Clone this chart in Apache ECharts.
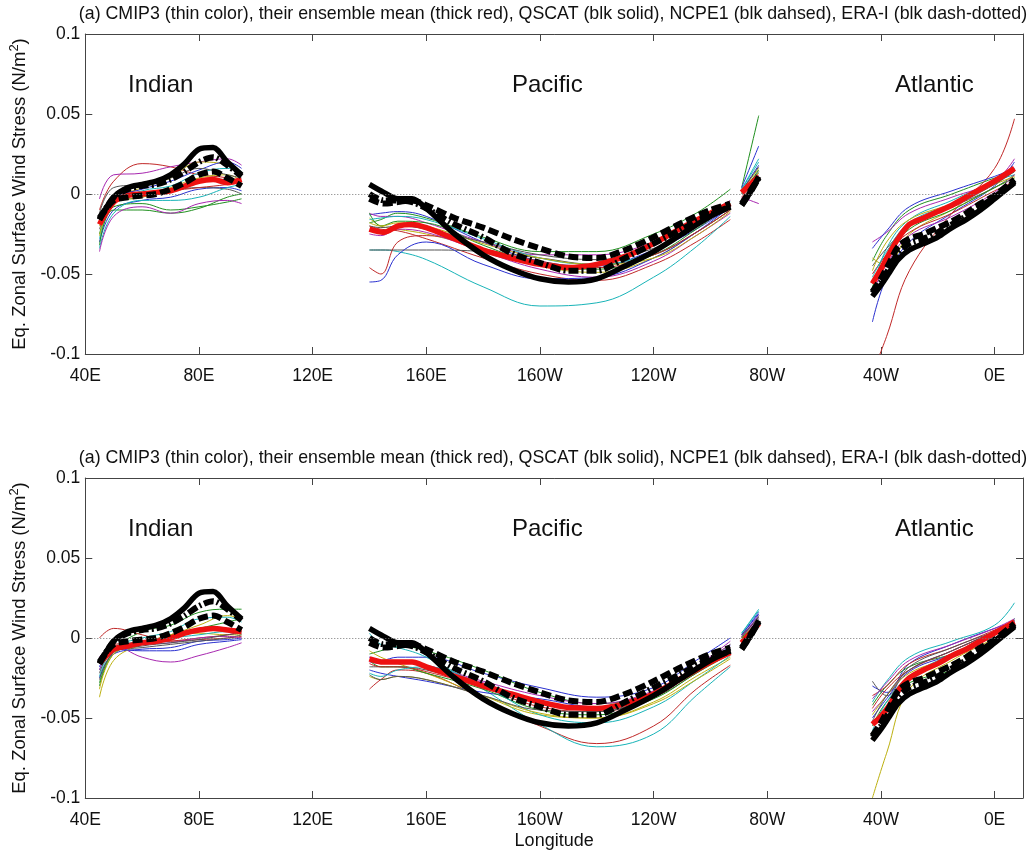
<!DOCTYPE html>
<html>
<head>
<meta charset="utf-8">
<script src="https://cdn.jsdelivr.net/npm/echarts@6/dist/echarts.min.js"></script>
<style>
  html, body { margin: 0; padding: 0; background: #fff; }
  #chart { width: 1031px; height: 854px; }
</style>
</head>
<body>
<div id="chart"></div>
<script>
// longitudes (0-360), one list per basin; gaps between basins are left empty
var lonIndian = [45, 50, 55, 60, 65, 70, 75, 80, 85, 90, 95];
var lonPacific = [140, 145, 150, 155, 160, 170, 180, 190, 200, 210, 220, 230, 240, 250, 260, 267];
var lonGap = [271, 274, 277];
var lonAtlantic = [317, 320, 323, 326, 330, 335, 340, 345, 350, 355, 360, 367];

// coarser longitudes for the thin model curves
var lonIndianThin = [45, 50, 60, 70, 80, 90, 95];
var lonPacificThin = [140, 144, 150, 160, 180, 200, 220, 240, 255, 267];
var lonGapThin = [271, 277];
var lonAtlanticThin = [317, 322, 330, 345, 360, 367];

var xTickLabels = {40: '40E', 80: '80E', 120: '120E', 160: '160E', 200: '160W', 240: '120W', 280: '80W', 320: '40W', 360: '0E'};

// observations (same in both panels)
var qscat = {
  indian: [-0.016, -0.002, 0.004, 0.006, 0.008, 0.012, 0.019, 0.028, 0.029, 0.020, 0.012],
  pacific: [0.006, 0.001, -0.003, -0.003, -0.009, -0.025, -0.038, -0.047, -0.053, -0.055, -0.053, -0.045, -0.036, -0.025, -0.014, -0.008],
  gap: [-0.007, 0.001, 0.011],
  atlantic: [-0.064, -0.057, -0.049, -0.041, -0.035, -0.031, -0.027, -0.021, -0.016, -0.010, -0.003, 0.007]
};
var ncep1 = {
  indian: [-0.015, -0.004, -0.002, -0.001, 0.000, 0.003, 0.007, 0.012, 0.014, 0.010, 0.005],
  pacific: [-0.003, -0.006, -0.005, -0.004, -0.007, -0.015, -0.021, -0.028, -0.034, -0.039, -0.040, -0.035, -0.027, -0.018, -0.010, -0.006],
  gap: [-0.006, 0.002, 0.010],
  atlantic: [-0.061, -0.053, -0.043, -0.033, -0.028, -0.025, -0.021, -0.017, -0.012, -0.006, -0.001, 0.009]
};
var eraI = {
  indian: [-0.016, -0.002, 0.003, 0.005, 0.006, 0.009, 0.014, 0.020, 0.023, 0.018, 0.011],
  pacific: [0.000, -0.004, -0.004, -0.005, -0.009, -0.019, -0.027, -0.037, -0.043, -0.048, -0.048, -0.040, -0.031, -0.022, -0.013, -0.008],
  gap: [-0.007, 0.001, 0.010],
  atlantic: [-0.062, -0.055, -0.046, -0.037, -0.031, -0.028, -0.024, -0.019, -0.014, -0.008, -0.002, 0.008]
};

// ensemble means
var meanTop = {
  indian: [-0.019, -0.005, -0.001, 0.000, 0.001, 0.002, 0.005, 0.008, 0.009, 0.007, 0.009],
  pacific: [-0.022, -0.024, -0.020, -0.019, -0.021, -0.028, -0.035, -0.040, -0.044, -0.046, -0.044, -0.039, -0.031, -0.021, -0.012, -0.006],
  gap: [0.001, 0.006, 0.011],
  atlantic: [-0.056, -0.047, -0.037, -0.028, -0.019, -0.015, -0.011, -0.007, -0.002, 0.003, 0.008, 0.016]
};
var meanBottom = {
  indian: [-0.016, -0.007, -0.005, -0.003, -0.002, 0.000, 0.003, 0.005, 0.006, 0.005, 0.004],
  pacific: [-0.013, -0.015, -0.015, -0.015, -0.018, -0.024, -0.030, -0.035, -0.040, -0.0435, -0.044, -0.041, -0.035, -0.025, -0.015, -0.009],
  gap: [-0.003, 0.003, 0.009],
  atlantic: [-0.054, -0.049, -0.042, -0.033, -0.025, -0.020, -0.016, -0.011, -0.007, -0.002, 0.003, 0.010]
};

// individual models, top panel (one row per model)
var topIndian = [
  [-0.030, -0.010, -0.004, -0.002, 0.003, 0.004, 0.002],
  [-0.025, -0.008, -0.006, -0.010, -0.008, -0.005, -0.003],
  [-0.010, 0.008, 0.019, 0.017, 0.012, 0.010, 0.006],
  [-0.028, -0.006, 0.002, 0.005, 0.013, 0.016, 0.014],
  [-0.003, 0.012, 0.013, 0.017, 0.020, 0.022, 0.018],
  [-0.020, -0.004, 0.004, 0.010, 0.020, 0.018, 0.012],
  [-0.022, -0.006, -0.002, 0.002, 0.004, 0.003, 0.000],
  [-0.018, -0.003, 0.003, 0.008, 0.015, 0.020, 0.016],
  [-0.032, -0.010, -0.010, -0.012, -0.009, -0.002, 0.000],
  [-0.015, -0.005, 0.000, 0.002, 0.004, 0.006, 0.008],
  [-0.034, -0.012, -0.004, -0.004, -0.002, 0.004, 0.006],
  [-0.036, -0.014, -0.008, -0.012, -0.006, -0.004, -0.006],
  [-0.026, -0.006, -0.002, 0.004, 0.010, 0.012, 0.008],
  [-0.012, 0.004, 0.006, 0.010, 0.016, 0.012, 0.010]
];
var topPacific = [
  [-0.013, -0.012, -0.011, -0.014, -0.030, -0.042, -0.045, -0.035, -0.022, -0.008],
  [-0.018, -0.016, -0.012, -0.015, -0.027, -0.036, -0.036, -0.025, -0.012, 0.003],
  [-0.020, -0.022, -0.023, -0.028, -0.040, -0.050, -0.054, -0.044, -0.030, -0.016],
  [-0.035, -0.035, -0.036, -0.041, -0.058, -0.070, -0.068, -0.052, -0.033, -0.014],
  [-0.012, -0.014, -0.014, -0.018, -0.030, -0.038, -0.038, -0.030, -0.016, -0.004],
  [-0.015, -0.020, -0.022, -0.025, -0.034, -0.045, -0.049, -0.040, -0.024, -0.010],
  [-0.035, -0.035, -0.035, -0.035, -0.036, -0.040, -0.044, -0.038, -0.024, -0.010],
  [-0.055, -0.054, -0.038, -0.030, -0.044, -0.053, -0.052, -0.040, -0.024, -0.008],
  [-0.012, -0.020, -0.017, -0.018, -0.032, -0.044, -0.047, -0.038, -0.022, -0.006],
  [-0.046, -0.050, -0.030, -0.026, -0.034, -0.042, -0.046, -0.038, -0.024, -0.010],
  [-0.016, -0.015, -0.014, -0.016, -0.028, -0.040, -0.044, -0.036, -0.020, -0.005],
  [-0.025, -0.026, -0.022, -0.024, -0.036, -0.047, -0.052, -0.042, -0.026, -0.012],
  [-0.018, -0.020, -0.018, -0.020, -0.031, -0.040, -0.044, -0.040, -0.026, -0.011],
  [-0.020, -0.021, -0.020, -0.022, -0.030, -0.038, -0.041, -0.034, -0.020, -0.007]
];
var topGap = [
  [0.002, 0.018], [0.004, 0.049], [-0.002, 0.010], [0.003, 0.022], [0.000, 0.012],
  [0.002, 0.016], [0.001, 0.014], [0.004, 0.030], [0.000, 0.015], [-0.003, 0.008],
  [0.003, 0.020], [-0.002, -0.006], [0.001, 0.013], [0.002, 0.017]
];
var topAtlantic = [
  [-0.080, -0.052, -0.030, -0.012, 0.005, 0.020],
  [-0.042, -0.026, -0.010, 0.000, 0.010, 0.014],
  [-0.112, -0.089, -0.048, -0.012, 0.016, 0.047],
  [-0.060, -0.034, -0.016, -0.004, 0.008, 0.012],
  [-0.030, -0.024, -0.012, -0.002, 0.008, 0.022],
  [-0.040, -0.045, -0.025, -0.010, 0.004, 0.010],
  [-0.045, -0.034, -0.020, -0.008, 0.004, 0.012],
  [-0.034, -0.023, -0.008, 0.002, 0.011, 0.016],
  [-0.058, -0.040, -0.022, -0.010, 0.004, 0.010],
  [-0.050, -0.038, -0.024, -0.012, 0.002, 0.008],
  [-0.052, -0.036, -0.018, -0.006, 0.007, 0.014],
  [-0.062, -0.044, -0.026, -0.014, 0.001, 0.012],
  [-0.048, -0.030, -0.016, -0.006, 0.006, 0.011],
  [-0.056, -0.040, -0.020, -0.008, 0.006, 0.014]
];

// individual models, bottom panel
var bottomIndian = [
  [-0.025, -0.010, -0.007, -0.006, -0.002, -0.001, 0.000],
  [-0.028, -0.008, 0.004, 0.008, 0.016, 0.018, 0.018],
  [0.000, 0.006, 0.002, -0.002, -0.001, 0.000, 0.001],
  [-0.020, -0.006, 0.000, 0.004, 0.012, 0.013, 0.010],
  [-0.012, -0.005, -0.012, -0.015, -0.011, -0.006, -0.003],
  [-0.037, -0.014, -0.004, 0.001, 0.003, 0.002, 0.002],
  [-0.022, -0.008, -0.006, -0.004, -0.002, 0.000, 0.002],
  [-0.018, -0.007, -0.008, -0.008, -0.004, -0.002, -0.001],
  [-0.030, -0.010, -0.004, 0.002, 0.006, 0.010, 0.012],
  [-0.015, -0.004, -0.003, -0.002, 0.000, 0.002, 0.004],
  [-0.024, -0.007, -0.002, 0.000, 0.002, 0.004, 0.004],
  [-0.020, -0.006, -0.004, -0.003, 0.000, 0.001, 0.000],
  [-0.032, -0.010, -0.003, 0.002, 0.008, 0.014, 0.012],
  [-0.026, -0.009, -0.005, -0.003, -0.001, 0.002, 0.003]
];
var bottomPacific = [
  [-0.012, -0.014, -0.012, -0.012, -0.022, -0.031, -0.037, -0.031, -0.014, 0.000],
  [-0.010, -0.008, -0.005, -0.008, -0.020, -0.034, -0.041, -0.034, -0.018, -0.004],
  [-0.032, -0.026, -0.020, -0.022, -0.038, -0.055, -0.066, -0.055, -0.032, -0.017],
  [0.003, -0.004, -0.006, -0.012, -0.032, -0.054, -0.068, -0.060, -0.036, -0.018],
  [-0.015, -0.016, -0.015, -0.017, -0.027, -0.036, -0.041, -0.033, -0.018, -0.004],
  [-0.008, -0.012, -0.016, -0.022, -0.036, -0.048, -0.050, -0.040, -0.024, -0.012],
  [-0.018, -0.018, -0.018, -0.020, -0.030, -0.040, -0.045, -0.037, -0.022, -0.008],
  [-0.020, -0.022, -0.024, -0.027, -0.034, -0.038, -0.043, -0.036, -0.020, -0.005],
  [-0.014, -0.018, -0.018, -0.022, -0.032, -0.045, -0.048, -0.038, -0.022, -0.010],
  [-0.016, -0.018, -0.018, -0.021, -0.031, -0.043, -0.046, -0.037, -0.020, -0.006],
  [-0.022, -0.024, -0.020, -0.018, -0.030, -0.048, -0.053, -0.043, -0.026, -0.011],
  [-0.012, -0.014, -0.014, -0.018, -0.028, -0.040, -0.043, -0.035, -0.018, -0.002],
  [-0.024, -0.026, -0.024, -0.026, -0.036, -0.047, -0.050, -0.041, -0.026, -0.013],
  [-0.023, -0.026, -0.024, -0.026, -0.036, -0.045, -0.046, -0.036, -0.020, -0.006]
];
var bottomGap = [
  [0.002, 0.016], [0.000, 0.014], [-0.003, 0.009], [0.003, 0.018], [0.001, 0.012],
  [0.000, 0.010], [0.001, 0.013], [0.002, 0.015], [0.000, 0.011], [-0.002, 0.010],
  [0.003, 0.017], [0.001, 0.014], [-0.001, 0.010], [0.002, 0.012]
];
var bottomAtlantic = [
  [-0.030, -0.034, -0.016, -0.004, 0.006, 0.010],
  [-0.042, -0.030, -0.018, -0.010, 0.002, 0.012],
  [-0.036, -0.030, -0.016, -0.006, 0.005, 0.011],
  [-0.040, -0.027, -0.012, -0.002, 0.008, 0.022],
  [-0.046, -0.036, -0.020, -0.008, 0.004, 0.010],
  [-0.100, -0.072, -0.032, -0.014, 0.000, 0.008],
  [-0.027, -0.036, -0.018, -0.006, 0.004, 0.009],
  [-0.050, -0.038, -0.021, -0.010, 0.003, 0.010],
  [-0.055, -0.040, -0.028, -0.020, -0.004, 0.010],
  [-0.044, -0.032, -0.020, -0.008, 0.004, 0.010],
  [-0.058, -0.040, -0.024, -0.010, 0.003, 0.012],
  [-0.038, -0.028, -0.014, -0.004, 0.006, 0.012],
  [-0.048, -0.036, -0.022, -0.012, 0.002, 0.008],
  [-0.052, -0.036, -0.020, -0.008, 0.004, 0.011]
];

var modelColors = ['#2a30d0', '#20901f', '#c02828', '#18b4b8', '#a828b0', '#bcb010', '#555555'];

var titleText = '(a) CMIP3 (thin color), their ensemble mean (thick red), QSCAT (blk solid), NCPE1 (blk dahsed), ERA-I (blk dash-dotted)';

// join basin pieces into one line, with an empty point between them so the line breaks
function joinSegments(lonSegs, valSegs) {
  var out = [];
  lonSegs.forEach(function (lons, s) {
    if (s > 0) out.push([lons[0] - 1, null]);
    lons.forEach(function (lon, i) { out.push([lon, valSegs[s][i]]); });
  });
  return out;
}
function obsData(o) {
  return joinSegments([lonIndian, lonPacific, lonGap, lonAtlantic], [o.indian, o.pacific, o.gap, o.atlantic]);
}

var chart = echarts.init(document.getElementById('chart'), null, {renderer: 'canvas'});

var boxColor = '#444';
var gridTops = [34, 478];
var fontName = 'Liberation Sans';

function xAxes(g) {
  var base = {
    type: 'value', gridIndex: g, min: 40, max: 370, interval: 40,
    axisLine: {show: true, onZero: false, lineStyle: {color: boxColor, width: 1}},
    axisTick: {show: true, inside: true, length: 7, lineStyle: {color: boxColor}},
    splitLine: {show: false}
  };
  var bottom = Object.assign({}, base, {
    position: 'bottom',
    axisLabel: {
      color: '#111', fontSize: 17.5, fontFamily: fontName, margin: 13,
      formatter: function (v) { return xTickLabels[v] || ''; }
    }
  });
  if (g === 1) {
    bottom.name = 'Longitude';
    bottom.nameLocation = 'middle';
    bottom.nameGap = 34;
    bottom.nameTextStyle = {color: '#111', fontSize: 18, fontFamily: fontName};
  }
  var top = Object.assign({}, base, {position: 'top', axisLabel: {show: false}});
  return [bottom, top];
}
function yAxes(g) {
  var base = {
    type: 'value', gridIndex: g, min: -0.1, max: 0.1, interval: 0.05,
    axisLine: {show: true, onZero: false, lineStyle: {color: boxColor, width: 1}},
    axisTick: {show: true, inside: true, length: 7, lineStyle: {color: boxColor}},
    splitLine: {show: false}
  };
  var left = Object.assign({}, base, {
    position: 'left',
    name: 'Eq. Zonal Surface Wind Stress (N/m{sup|2})',
    nameLocation: 'middle',
    nameGap: 52,
    nameTextStyle: {
      color: '#111', fontSize: 18.5, fontFamily: fontName,
      rich: {sup: {fontSize: 13, fontFamily: fontName, color: '#111', padding: [0, 0, 11, 0]}}
    },
    axisLabel: {
      color: '#111', fontSize: 17.5, fontFamily: fontName, margin: 5,
      formatter: function (v) { return String(+v.toFixed(2)); }
    }
  });
  var right = Object.assign({}, base, {position: 'right', axisLabel: {show: false}});
  return [left, right];
}

var series = [];
[
  {g: 0, ind: topIndian, pac: topPacific, gap: topGap, atl: topAtlantic, mean: meanTop},
  {g: 1, ind: bottomIndian, pac: bottomPacific, gap: bottomGap, atl: bottomAtlantic, mean: meanBottom}
].forEach(function (p) {
  var xi = p.g * 2, yi = p.g * 2;
  p.ind.forEach(function (row, m) {
    series.push({
      type: 'line', xAxisIndex: xi, yAxisIndex: yi, showSymbol: false, smooth: 0.4,
      lineStyle: {color: modelColors[m % modelColors.length], width: 1},
      data: joinSegments([lonIndianThin, lonPacificThin, lonGapThin, lonAtlanticThin],
        [row, p.pac[m], p.gap[m], p.atl[m]]),
      markLine: m === 0 ? {
        silent: true, symbol: 'none', label: {show: false},
        lineStyle: {color: '#777', width: 1, type: [1, 2]},
        data: [{yAxis: 0}]
      } : undefined
    });
  });
  series.push({
    type: 'line', xAxisIndex: xi, yAxisIndex: yi, showSymbol: false, smooth: 0.3,
    lineStyle: {color: '#ee1111', width: 5.5}, data: obsData(p.mean)
  });
  series.push({
    type: 'line', xAxisIndex: xi, yAxisIndex: yi, showSymbol: false, smooth: 0.3,
    lineStyle: {color: '#000', width: 5.5}, data: obsData(qscat)
  });
  series.push({
    type: 'line', xAxisIndex: xi, yAxisIndex: yi, showSymbol: false, smooth: 0.3,
    lineStyle: {color: '#000', width: 6, type: [10, 4]}, data: obsData(ncep1)
  });
  series.push({
    type: 'line', xAxisIndex: xi, yAxisIndex: yi, showSymbol: false, smooth: 0.3,
    lineStyle: {color: '#000', width: 6, type: [10, 3, 2, 3]}, data: obsData(eraI)
  });
});

var labelFont = '24px "Liberation Sans"';
var graphics = [];
gridTops.forEach(function (t) {
  graphics.push({type: 'text', x: 553, y: t - 20, style: {text: titleText, font: '17.8px "Liberation Sans"', fill: '#111', textAlign: 'center', textVerticalAlign: 'middle'}});
  graphics.push({type: 'text', x: 128, y: t + 51, style: {text: 'Indian', font: labelFont, fill: '#111', textVerticalAlign: 'middle'}});
  graphics.push({type: 'text', x: 512, y: t + 51, style: {text: 'Pacific', font: labelFont, fill: '#111', textVerticalAlign: 'middle'}});
  graphics.push({type: 'text', x: 895, y: t + 51, style: {text: 'Atlantic', font: labelFont, fill: '#111', textVerticalAlign: 'middle'}});
});

chart.setOption({
  animation: false,
  backgroundColor: '#fff',
  grid: [
    {left: 85, top: gridTops[0], width: 938, height: 320, containLabel: false},
    {left: 85, top: gridTops[1], width: 938, height: 320, containLabel: false}
  ],
  xAxis: xAxes(0).concat(xAxes(1)),
  yAxis: yAxes(0).concat(yAxes(1)),
  series: series,
  graphic: graphics
});
</script>
</body>
</html>
